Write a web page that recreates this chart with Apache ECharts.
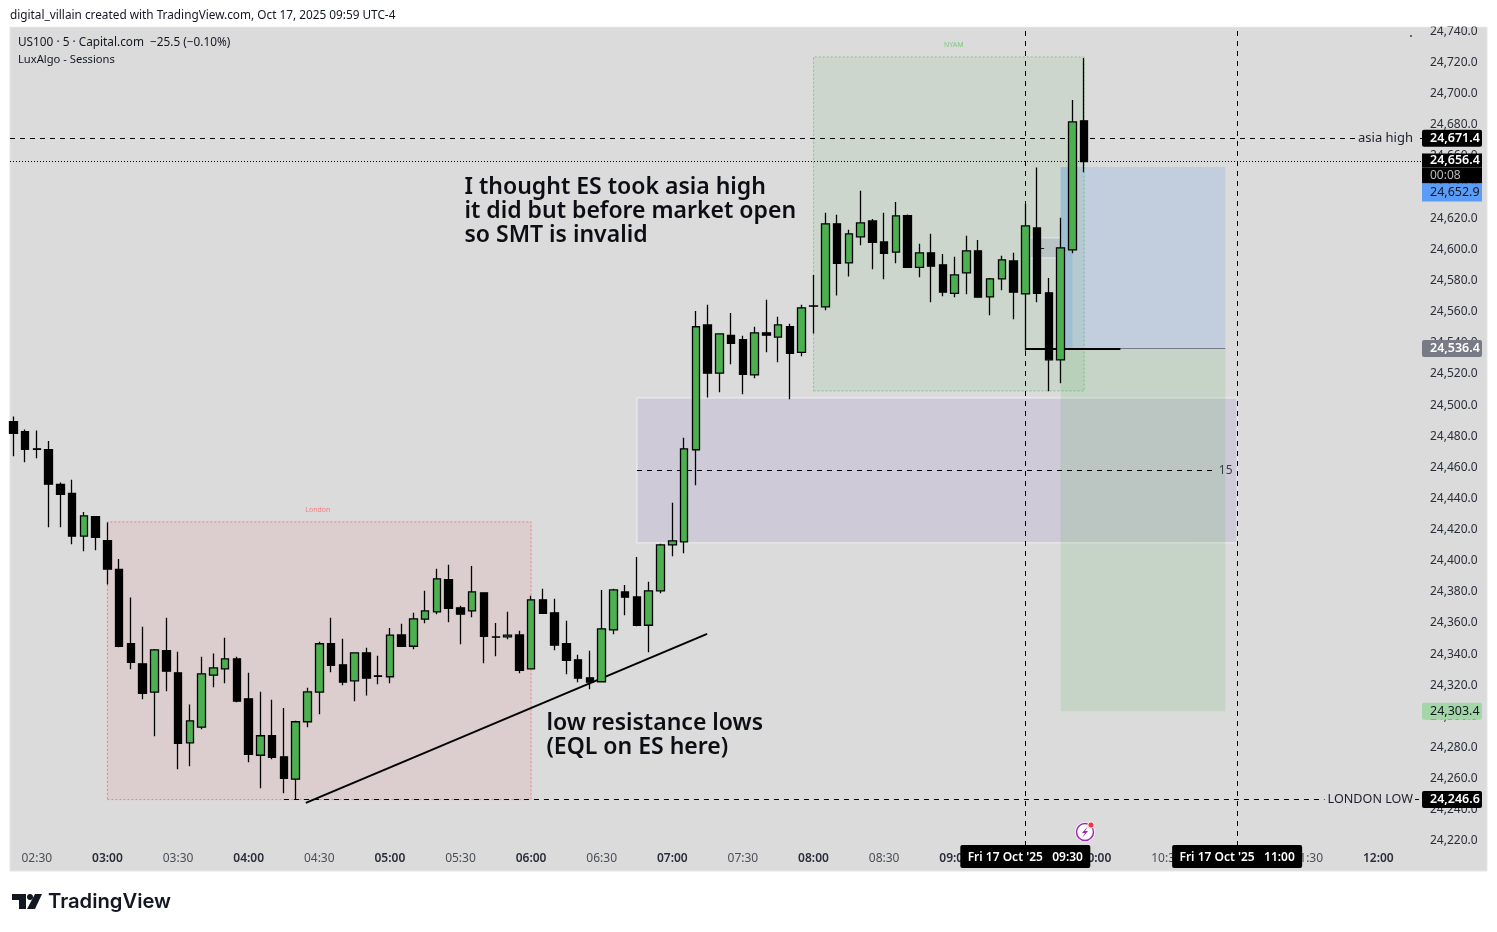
<!DOCTYPE html>
<html>
<head>
<meta charset="utf-8">
<style>html,body{margin:0;padding:0;background:#fff}#c{width:1497px;height:932px}</style>
<script src="https://cdn.jsdelivr.net/npm/echarts@6/dist/echarts.min.js"></script>
</head>
<body>
<div id="c"></div>
<script>
// ---------- data ----------
const times = ["02:20","02:25","02:30","02:35","02:40","02:45","02:50","02:55","03:00","03:05","03:10","03:15","03:20","03:25","03:30","03:35","03:40","03:45","03:50","03:55","04:00","04:05","04:10","04:15","04:20","04:25","04:30","04:35","04:40","04:45","04:50","04:55","05:00","05:05","05:10","05:15","05:20","05:25","05:30","05:35","05:40","05:45","05:50","05:55","06:00","06:05","06:10","06:15","06:20","06:25","06:30","06:35","06:40","06:45","06:50","06:55","07:00","07:05","07:10","07:15","07:20","07:25","07:30","07:35","07:40","07:45","07:50","07:55","08:00","08:05","08:10","08:15","08:20","08:25","08:30","08:35","08:40","08:45","08:50","08:55","09:00","09:05","09:10","09:15","09:20","09:25","09:30","09:35","09:40","09:45","09:50","09:55"];
const opens = [24489.4,24483,24471.9,24471.4,24449,24443.2,24415.8,24428.4,24413,24394.4,24346.8,24333.8,24315.6,24342.2,24328,24283.1,24293.1,24326.5,24330.6,24337,24311.3,24275.1,24287.6,24274.1,24259.7,24296.6,24315.6,24346.7,24333.2,24322.9,24340.9,24326.1,24325.5,24352.4,24345.1,24362.5,24367.2,24387.8,24369.8,24367.8,24379.4,24351.1,24351.1,24352.4,24330.6,24374.9,24366.6,24346.7,24336.4,24324.8,24322.3,24355.6,24380,24376.8,24358.6,24380.7,24410.2,24412.2,24471.3,24551.5,24520.5,24544.7,24542.1,24519.4,24546.4,24543.6,24550.4,24533.9,24563.7,24563.1,24616.4,24591.4,24608.1,24618.3,24604.8,24598.2,24621.7,24588.5,24597.8,24590.1,24571.8,24584.9,24599.1,24569.5,24581.1,24592.6,24571.4,24613.8,24572.1,24529.1,24599.7,24682.6];
const closes = [24481.9,24471.6,24471.6,24449.2,24442.7,24415.8,24428.9,24415.1,24394.6,24345.1,24334.8,24314.9,24342.8,24329.1,24282.8,24297.2,24327.4,24331.2,24337,24309.8,24275.7,24287.6,24273.8,24260.3,24296.6,24315.8,24346.7,24332.9,24322,24340.9,24324.6,24325.8,24352.2,24345.1,24362.7,24367.8,24388.4,24369.5,24365.7,24380,24351.5,24350.9,24352.2,24329.7,24374.9,24366.3,24345.8,24336.1,24324.6,24322,24356.3,24381.3,24376.6,24358.6,24380.7,24410.2,24412.8,24471.9,24550.3,24520.5,24545.8,24539.7,24519.8,24546.4,24544.9,24551.5,24533.3,24562.5,24563.5,24616.4,24591.1,24610,24617,24604.6,24597.5,24621.5,24588.5,24597.8,24589.2,24572.5,24583.6,24599.1,24569.3,24581.1,24593.3,24572.5,24615.1,24571.8,24529.1,24601,24681.9,24656.4];
const lows = [24467.1,24463.3,24465.9,24421.5,24421.5,24410.6,24406.1,24406.8,24384.7,24344.5,24330.3,24311.1,24287.3,24316.2,24266.1,24268,24291.8,24318.8,24321.4,24309.1,24270.6,24253.9,24272.5,24250.7,24246.5,24293.1,24301.4,24328.4,24320.1,24309.8,24313.4,24320.7,24321.4,24345.1,24343.2,24359.9,24365.7,24360.5,24346.4,24363.7,24334.2,24338.7,24349.6,24327.8,24330.6,24366.3,24342.5,24327.1,24322,24317.5,24322.3,24352.8,24365,24358,24341.3,24379.2,24402.9,24404.8,24448.5,24504.8,24508.2,24526.2,24507,24517.2,24533.9,24527.5,24503.8,24531.4,24545.9,24560.9,24570.4,24582.6,24602.7,24587.2,24580.8,24591.1,24588.5,24582.1,24566.1,24569.9,24569.3,24571.2,24569.3,24557.7,24573.8,24555.1,24535,24566.1,24508.9,24514,24597.5,24649.5];
const highs = [24492.6,24484.3,24483.6,24477,24450.3,24452,24431.4,24428.4,24424.6,24401.2,24376.4,24357.6,24343.4,24363.4,24341.5,24307.7,24338.3,24340.4,24350.5,24338.3,24328,24315.8,24310.7,24305.5,24297.2,24318.4,24348,24363.4,24349.9,24340.9,24344.1,24339,24356.9,24359.5,24366.6,24380.7,24394.8,24397.4,24371.1,24396.7,24379.4,24360.1,24367.2,24355,24377.5,24382,24375.6,24361.4,24339.6,24342.2,24381.3,24382,24384.5,24402.5,24386.5,24410.9,24437.2,24479,24560.5,24564.4,24545.8,24559.2,24544.5,24550.3,24567.6,24556.7,24552.2,24564.4,24583.6,24623.5,24622.2,24612.6,24637.6,24619.6,24623.5,24630.5,24622.4,24603.6,24610,24597.1,24595.2,24608.7,24606.1,24581.7,24595.9,24597.8,24629.2,24652.6,24581.7,24620.3,24696,24723];

const xTickLabels = ["02:30","03:00","03:30","04:00","04:30","05:00","05:30","06:00","06:30","07:00","07:30","08:00","08:30","09:00","09:30","10:00","10:30","11:00","11:30","12:00"];
const yTickValues = [24220,24240,24260,24280,24300,24320,24340,24360,24380,24400,24420,24440,24460,24480,24500,24520,24540,24560,24580,24600,24620,24640,24660,24680,24700,24720,24740];

const asiaHigh = 24671.4, lastPrice = 24656.4, takeProfit = 24652.9, entry = 24536.4, stopLoss = 24303.4, londonLow = 24246.6;
const zoneMidValue = 24458, zoneTop = 24504.6, zoneBottom = 24411.5;
const londonTop = 24425, nyamTop = 24723.6, nyamBottom = 24509.1;
const trendLine = [[264.3, 24244.5], [434.8, 24353]];

// ---------- helpers ----------
const toMin = t => { const p = t.split(":"); return +p[0] * 60 + +p[1]; };
const fromMin = m => String(Math.floor(m / 60)).padStart(2, "0") + ":" + String(m % 60).padStart(2, "0");
const fmtPrice = v => v.toLocaleString("en-US", { minimumFractionDigits: 1, maximumFractionDigits: 1 });
const FONT = '"Noto Sans"';
const xMin = 138.6, xMax = 738.55, yMin = 24216.8, yMax = 24742.2;
const NONE = "rgba(0,0,0,0)";

const candleData = times.map((t, i) => [toMin(t), opens[i], closes[i], lows[i], highs[i]]);

function box(from, to, fill, border) {
  const style = { color: fill, borderWidth: border ? border.width : 0, borderColor: border ? border.color : "transparent", borderType: border ? border.type : "solid" };
  return [{ coord: from, itemStyle: style }, { coord: to }];
}
function seg(from, to, color, width, type) {
  return [{ coord: from, lineStyle: { color, width, type }, label: { show: false }, symbol: "none" }, { coord: to }];
}
function priceTag(v, bg, fg, weight) {
  return { yAxis: v, lineStyle: { color: NONE, width: 0 }, label: { show: true, position: "end", distance: 0, formatter: fmtPrice(v), backgroundColor: bg, color: fg, fontFamily: FONT, fontSize: 12.5, fontWeight: weight || 600, width: 52, height: 17, lineHeight: 17, padding: [0, 0, 0, 8], borderRadius: 2, align: "left", verticalAlign: "middle" } };
}
function lineTitle(v, text, size) {
  return { yAxis: v, lineStyle: { color: NONE, width: 0 }, label: { show: true, position: "insideEnd", distance: 7, formatter: text, color: "#1c1f2b", fontFamily: FONT, fontSize: size, backgroundColor: "#dbdbdb", padding: [0, 2, 0, 3] } };
}
function timeTag(m, text) {
  return { xAxis: m, lineStyle: { color: "#000", width: 1, type: [5, 5] }, label: { show: true, position: "start", distance: -1, formatter: text, backgroundColor: "#000", color: "#fff", fontFamily: FONT, fontSize: 12, fontWeight: 600, width: 130, height: 23, lineHeight: 25, align: "center", borderRadius: 2 } };
}
function note(coord, text, size, color, weight, lh, pos) {
  return { coord, symbol: "rect", symbolSize: 1, itemStyle: { color: NONE }, label: { show: true, position: pos || "right", distance: 0, formatter: text, fontFamily: FONT, fontSize: size, color, fontWeight: weight, lineHeight: lh, align: pos === "inside" ? "center" : "left" } };
}

const option = {
  animation: false,
  backgroundColor: "#ffffff",
  grid: { left: 10, right: 75, top: 28, bottom: 86, containLabel: false },
  xAxis: {
    type: "value", min: xMin, max: xMax, scale: true,
    axisLine: { show: false }, axisTick: { show: false }, splitLine: { show: false },
    axisLabel: {
      customValues: xTickLabels.map(toMin), margin: 7, hideOverlap: false, showMinLabel: true, showMaxLabel: true,
      formatter: v => (v % 60 === 0 ? "{h|" : "{m|") + fromMin(v) + "}",
      rich: {
        h: { fontFamily: FONT, fontSize: 12, fontWeight: 600, color: "#2a2e39" },
        m: { fontFamily: FONT, fontSize: 12, color: "#4a4e59" }
      }
    }
  },
  yAxis: {
    type: "value", position: "right", min: yMin, max: yMax, scale: true,
    axisLine: { show: false }, axisTick: { show: false }, splitLine: { show: false },
    axisLabel: { customValues: yTickValues, margin: 8, color: "#2a2e39", fontFamily: FONT, fontSize: 12, formatter: v => fmtPrice(v), showMinLabel: true, showMaxLabel: true }
  },
  series: [{
    type: "candlestick",
    data: candleData,
    barWidth: 8,
    clip: true,
    z: 3,
    itemStyle: { color: "#4caf50", color0: "#000000", borderColor: "#000000", borderColor0: "#000000", borderWidth: 1.3 },
    markArea: {
      silent: true, z: 1,
      data: [
        box([180, londonLow], [360, londonTop], "rgba(242,54,69,0.08)", { color: "#f77c80", width: 1, type: [2, 2] }),
        box([480, nyamBottom], [595, nyamTop], "rgba(76,175,80,0.1)", { color: "#81c784", width: 1, type: [2, 2] }),
        box([405, zoneBottom], [660, zoneTop], "rgba(103,58,183,0.1)", { color: "#f0f0f2", width: 1, type: "solid" }),
        box([572, 24594.5], [585, 24607.4], "rgba(103,110,170,0.18)", { color: "#e8e8e8", width: 1, type: "solid" }),
        box([585, entry], [655, takeProfit], "rgba(33,120,243,0.13)"),
        box([585, entry], [590, takeProfit], "rgba(76,160,220,0.22)"),
        box([585, stopLoss], [655, entry], "rgba(76,175,80,0.15)")
      ]
    },
    markLine: {
      silent: true, z: 2, symbol: "none", animation: false, precision: 1,
      label: { show: false },
      data: [
        { yAxis: asiaHigh, lineStyle: { color: "#000", width: 1, type: [5, 5] }, label: { show: false } },
        { yAxis: lastPrice, lineStyle: { color: "#000", width: 1, type: [1, 2] }, label: { show: false } },
        seg([255, londonLow], [xMax, londonLow], "#000", 1, [5, 5]),
        seg([405, zoneMidValue], [651, zoneMidValue], "#000", 1, [5, 5]),
        seg(trendLine[0], trendLine[1], "#000", 2, "solid"),
        seg([585, entry], [655, entry], "#787b86", 1, "solid"),
        seg([570, entry], [610.4, entry], "#000", 2, "solid"),
        seg([576, 24600.9], [578, 24600.9], "#222", 1, "solid"),
        lineTitle(asiaHigh, "asia high", 13),
        lineTitle(londonLow, "LONDON LOW", 12.6),
        timeTag(toMin("09:30"), "Fri 17 Oct '25   09:30"),
        timeTag(toMin("11:00"), "Fri 17 Oct '25   11:00"),
        priceTag(asiaHigh, "#000", "#fff"),
        priceTag(londonLow, "#000", "#fff"),
        priceTag(entry, "#787b86", "#fff"),
        priceTag(stopLoss, "#a5d6a7", "#131722", 400),
        {
          yAxis: lastPrice, lineStyle: { color: NONE, width: 0 },
          label: {
            show: true, position: "end", distance: 0, offset: [0, 16], align: "left", verticalAlign: "middle",
            formatter: "{p|" + fmtPrice(lastPrice) + "}\n{t|00:08}\n{b|" + fmtPrice(takeProfit) + "}",
            rich: {
              p: { backgroundColor: "#000", color: "#fff", fontFamily: FONT, fontSize: 12.5, fontWeight: 600, width: 52, height: 14, lineHeight: 14, padding: [0, 0, 0, 8] },
              t: { backgroundColor: "#000", color: "#bbb", fontFamily: FONT, fontSize: 12, width: 52, height: 16, lineHeight: 16, padding: [0, 0, 0, 8] },
              b: { backgroundColor: "#5b9cf6", color: "#131722", fontFamily: FONT, fontSize: 12.5, width: 52, height: 18, lineHeight: 18, padding: [0, 0, 0, 8] }
            }
          }
        }
      ]
    },
    markPoint: {
      silent: true, z: 6,
      data: [
        note([331.5, 24624.4], "I thought ES took asia high\nit did but before market open\nso SMT is invalid", 23, "#0c0e14", 600, 24),
        note([366.3, 24287.8], "low resistance lows\n(EQL on ES here)", 23, "#0c0e14", 600, 24),
        note([269.4, 24432.4], "London", 7, "#f77c80", 400, 8, "inside"),
        note([539.6, 24731.3], "NYAM", 7, "#81c784", 400, 8, "inside"),
        note([652, 24458], "15", 12, "#3a3e49", 400, 14)
      ]
    }
  }],
  graphic: [
    { type: "rect", z: -10, shape: { x: 10, y: 27, width: 1477, height: 844 }, style: { fill: "#dbdbdb", stroke: "#e6e6e6", lineWidth: 1 } },
    { type: "rect", z: 50, shape: { x: 0, y: 0, width: 1497, height: 26.5 }, style: { fill: "#fff" } },
    { type: "text", z: 60, x: 10, y: 10, style: { text: "digital_villain created with TradingView.com, Oct 17, 2025 09:59 UTC-4", font: '11.8px ' + FONT, fill: "#131722" } },
    { type: "text", z: 60, x: 18, y: 37, style: { text: "US100 · 5 · Capital.com  −25.5 (−0.10%)", font: '11.8px ' + FONT, fill: "#131722" } },
    { type: "text", z: 60, x: 18, y: 54, style: { text: "LuxAlgo - Sessions", font: '11.2px ' + FONT, fill: "#131722" } },
    { type: "circle", z: 60, shape: { cx: 1411, cy: 36, r: 0.9 }, style: { fill: "#2a2e50" } },
    // TradingView wordmark
    { type: "polygon", z: 60, shape: { points: [[12, 894], [26, 894], [26, 909], [19, 909], [19, 900], [12, 900]] }, style: { fill: "#131722" } },
    { type: "circle", z: 60, shape: { cx: 30, cy: 897, r: 3 }, style: { fill: "#131722" } },
    { type: "polygon", z: 60, shape: { points: [[35, 894], [42, 894], [35, 909], [27, 909]] }, style: { fill: "#131722" } },
    { type: "text", z: 60, x: 48, y: 892, style: { text: "TradingView", font: '600 20.2px Inter', fill: "#131722" } },
    // alert badge
    { type: "circle", z: 60, shape: { cx: 1085, cy: 832, r: 10 }, style: { fill: "#fff" } },
    { type: "circle", z: 61, shape: { cx: 1085, cy: 832, r: 8.5 }, style: { fill: "#fff", stroke: "#9c27b0", lineWidth: 1.5 } },
    { type: "polygon", z: 62, shape: { points: [[1088, 826], [1082, 833], [1085, 833], [1082, 838], [1088, 831], [1085, 831]] }, style: { fill: "#9c27b0" } },
    { type: "circle", z: 63, shape: { cx: 1091, cy: 825, r: 3.2 }, style: { fill: "#f23645", stroke: "#fff", lineWidth: 1 } }
  ]
};

const chart = echarts.init(document.getElementById("c"), null, { renderer: "canvas", width: 1497, height: 932 });
chart.setOption(option);
</script>
</body>
</html>
